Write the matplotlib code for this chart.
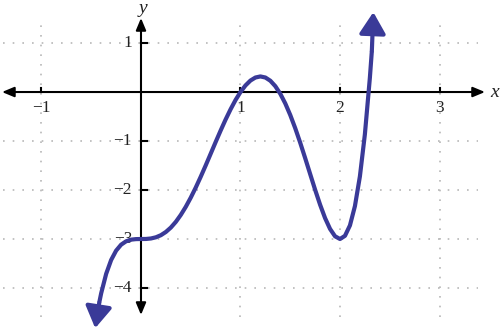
import matplotlib
matplotlib.use("Agg")
import matplotlib.pyplot as plt

# ---- data ----
curve_x = [-0.42, -0.40, -0.35, -0.30, -0.25, -0.20, -0.15, -0.10, -0.05, 0.00,
           0.05, 0.10, 0.15, 0.20, 0.25, 0.30, 0.35, 0.40, 0.45, 0.50,
           0.55, 0.60, 0.65, 0.70, 0.75, 0.80, 0.85, 0.90, 0.95, 1.00,
           1.05, 1.10, 1.15, 1.20, 1.25, 1.30, 1.35, 1.40, 1.45, 1.50,
           1.55, 1.60, 1.65, 1.70, 1.75, 1.80, 1.85, 1.90, 1.95, 2.00,
           2.05, 2.10, 2.15, 2.20, 2.25, 2.30, 2.32]
curve_y = [-4.302, -4.106, -3.710, -3.428, -3.237, -3.116, -3.047, -3.013, -3.002, -3.000,
           -2.999, -2.989, -2.965, -2.922, -2.856, -2.766, -2.650, -2.508, -2.343, -2.156,
           -1.951, -1.730, -1.499, -1.261, -1.022, -0.788, -0.563, -0.354, -0.164, 0.000,
           0.134, 0.234, 0.296, 0.318, 0.296, 0.230, 0.119, -0.036, -0.233, -0.469,
           -0.738, -1.034, -1.349, -1.673, -1.995, -2.300, -2.573, -2.794, -2.944, -3.000,
           -2.935, -2.722, -2.329, -1.722, -0.864, 0.285, 0.836]
arrow_start_tip = (-0.46, -4.82)
arrow_end_tip = (2.335, 1.63)

x_ticks = [-1, 1, 2, 3]
x_tick_labels = ["\u22121", "1", "2", "3"]
y_ticks = [1, -1, -2, -3, -4]
y_tick_labels = ["1", "\u22121", "\u22122", "\u22123", "\u22124"]

# ---- figure ----
fig = plt.figure(figsize=(5.0, 3.3), dpi=100)
ax = fig.add_axes([0, 0, 1, 1])
ax.set_xlim(-1.417, 3.608)
ax.set_ylim(-4.857, 1.878)
ax.axis("off")

grid_col = "#b8b8b8"
grid_ls = (0, (1.0, 4.8))
for gx in x_ticks:
    ax.plot([gx, gx], [-4.59, 1.37], color=grid_col, lw=1.2, ls=grid_ls, zorder=1)
for gy in y_ticks:
    ax.plot([-1.39, 3.39], [gy, gy], color=grid_col, lw=1.2, ls=grid_ls, zorder=1)

# axes with arrows
axprops = dict(arrowstyle="<|-|>,head_length=0.6,head_width=0.25",
               color="black", lw=1.5, mutation_scale=12, shrinkA=0, shrinkB=0)
ax.annotate("", xy=(3.457, 0), xytext=(-1.397, 0), arrowprops=axprops, zorder=3)
ax.annotate("", xy=(0, 1.51), xytext=(0, -4.55), arrowprops=axprops, zorder=3)

serif = ["Liberation Serif", "DejaVu Serif"]
# ticks
for tx, lab in zip(x_ticks, x_tick_labels):
    ax.plot([tx, tx], [0, 0.075], color="black", lw=1.5, zorder=3)
    ax.text(tx, -0.33, lab, ha="center", va="center", fontsize=12.5,
            family=serif, color="#222222", zorder=2)
for ty, lab in zip(y_ticks, y_tick_labels):
    ax.plot([0, 0.06], [ty, ty], color="black", lw=1.5, zorder=3)
    ax.text(-0.09, ty, lab, ha="right", va="center", fontsize=12.5,
            family=serif, color="#222222", zorder=2)

ax.text(3.55, 0.0, "x", ha="center", va="center", fontsize=14,
        style="italic", family=serif, color="#222222")
ax.text(0.02, 1.7, "y", ha="center", va="center", fontsize=14,
        style="italic", family=serif, color="#222222")

# curve
curve_col = "#3a3a98"
ax.plot(curve_x, curve_y, color=curve_col, lw=3, solid_capstyle="butt",
        solid_joinstyle="round", zorder=4)
cprops = dict(arrowstyle="-|>,head_length=0.65,head_width=0.4", color=curve_col,
              lw=3, mutation_scale=20, shrinkA=0, shrinkB=0)
ax.annotate("", xy=arrow_start_tip, xytext=(curve_x[0], curve_y[0]),
            arrowprops=cprops, zorder=5)
ax.annotate("", xy=arrow_end_tip, xytext=(curve_x[-1], curve_y[-1]),
            arrowprops=cprops, zorder=5)

fig.savefig("out.png", dpi=100)
